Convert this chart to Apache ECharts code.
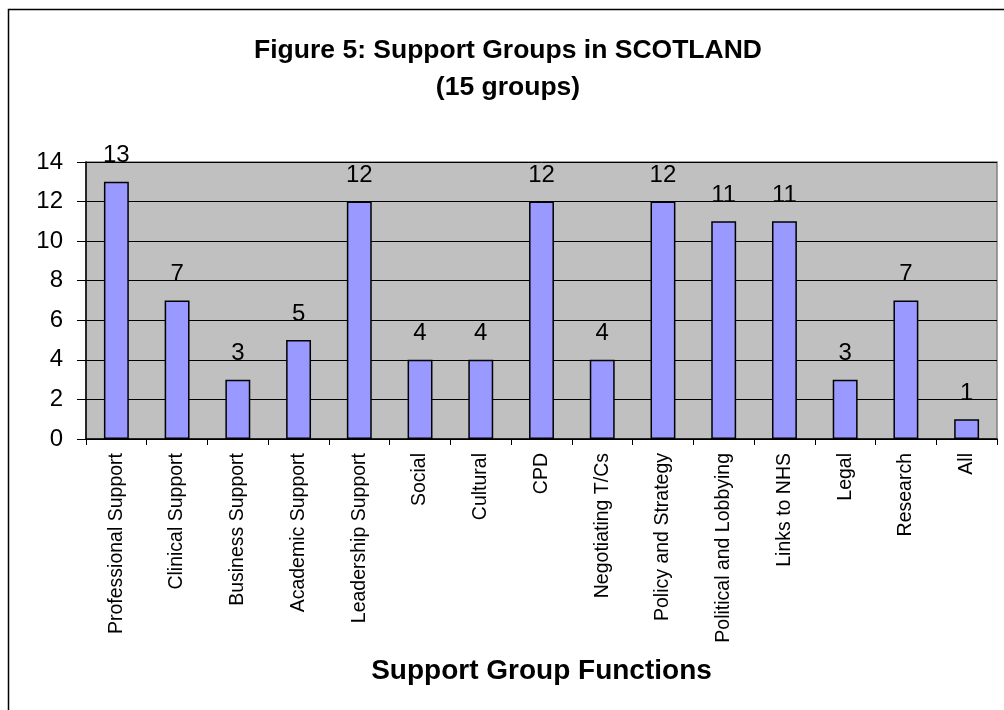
<!DOCTYPE html>
<html>
<head>
<meta charset="utf-8">
<script src="https://cdn.jsdelivr.net/npm/echarts@6/dist/echarts.min.js"></script>
<style>
  html, body { margin: 0; padding: 0; background: #fff; }
  #chart { width: 1004px; height: 710px; }
</style>
</head>
<body>
<div id="chart"></div>
<script>
const categories = ["Professional Support", "Clinical Support", "Business Support", "Academic Support", "Leadership Support", "Social", "Cultural", "CPD", "Negotiating T/Cs", "Policy and Strategy", "Political and Lobbying", "Links to NHS", "Legal", "Research", "All"];
const values = [13, 7, 3, 5, 12, 4, 4, 12, 4, 12, 11, 11, 3, 7, 1];
const yTicks = [0, 2, 4, 6, 8, 10, 12, 14];

const FONT = "'Liberation Sans', Arial, sans-serif";
const chart = echarts.init(document.getElementById('chart'), null, { renderer: 'canvas' });
chart.setOption({
  backgroundColor: '#ffffff',
  animation: false,
  textStyle: { fontFamily: FONT },
  graphic: [{
    type: 'rect',
    z: -10,
    shape: { x: 8.5, y: 9.5, width: 1200, height: 1200 },
    style: { fill: 'none', stroke: '#000', lineWidth: 1.5 }
  }],
  title: {
    text: 'Figure 5: Support Groups in SCOTLAND\n(15 groups)',
    left: 503,
    top: 27,
    textAlign: 'center',
    textStyle: { fontFamily: FONT, fontSize: 26.5, fontWeight: 'bold', color: '#000', lineHeight: 37 }
  },
  grid: {
    left: 86, right: 7, top: 162, bottom: 271,
    show: true,
    backgroundColor: '#c0c0c0',
    borderColor: '#808080',
    borderWidth: 1.5
  },
  xAxis: {
    type: 'category',
    data: categories,
    name: 'Support Group Functions',
    nameLocation: 'middle',
    nameGap: 218,
    nameTextStyle: { fontFamily: FONT, fontSize: 28, fontWeight: 'bold', color: '#000' },
    axisLine: { show: true, lineStyle: { color: '#000', width: 1.5 } },
    axisTick: { show: true, length: 6, alignWithLabel: false, lineStyle: { color: '#000', width: 1 } },
    axisLabel: { interval: 0, rotate: 90, fontFamily: FONT, fontSize: 19.5, color: '#000', margin: 14 },
    splitLine: { show: false }
  },
  yAxis: {
    type: 'value',
    min: yTicks[0],
    max: yTicks[yTicks.length - 1],
    interval: 2,
    axisLine: { show: true, lineStyle: { color: '#000', width: 1.5 } },
    axisTick: { show: true, length: 9, lineStyle: { color: '#000', width: 1 } },
    axisLabel: { fontFamily: FONT, fontSize: 24, color: '#000', margin: 23 },
    splitLine: { show: true, lineStyle: { color: '#000', width: 1 } }
  },
  series: [{
    type: 'bar',
    data: values,
    barWidth: '41%',
    itemStyle: { color: '#9999ff', borderColor: '#000', borderWidth: 1.5 },
    label: { show: true, position: 'top', distance: 14, fontFamily: FONT, fontSize: 24, color: '#000' }
  }]
});
</script>
</body>
</html>
